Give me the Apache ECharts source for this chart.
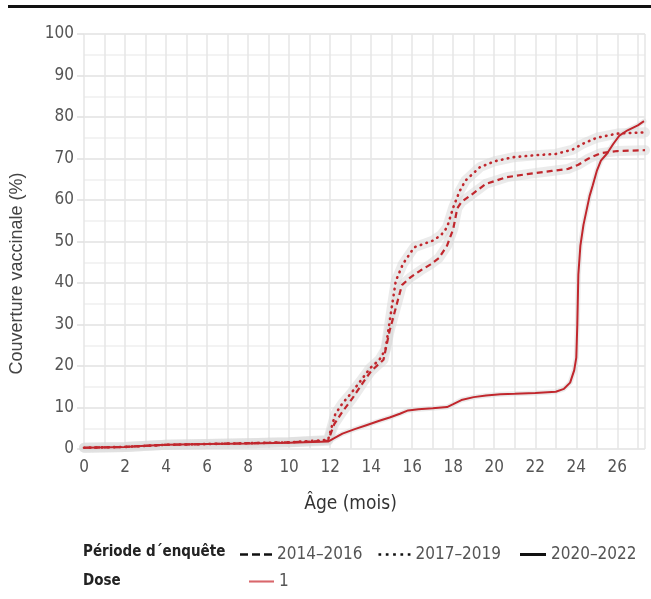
<!DOCTYPE html>
<html>
<head>
  <meta charset="UTF-8">
  <title>Couverture vaccinale</title>
  <script src="https://cdn.jsdelivr.net/npm/echarts@6/dist/echarts.min.js"></script>
  <style>
    html, body { margin: 0; padding: 0; background: #fff; }
    #main { width: 651px; height: 599px; }
  </style>
</head>
<body>
<div id="main"></div>
<script>
// period names (legend)
var periods = ['2014–2016', '2017–2019', '2020–2022'];
var doses = ['1'];

// 2014-2016, dashed
var ageA = [0, 2, 4, 6, 8, 10, 11.9, 12.2, 12.6, 13.1, 13.6, 14.0, 14.6, 14.9, 15.2, 15.5, 15.9, 16.4, 16.9, 17.3, 17.7, 18.0, 18.2, 18.4, 18.95, 19.6, 20.6, 21.7, 22.8, 23.6, 24.1, 24.6, 25.2, 26.0, 27.35];
var covA = [0.3, 0.5, 1.0, 1.2, 1.4, 1.6, 2.0, 6.0, 9.0, 12.3, 16, 18.8, 21.5, 28.5, 34, 39.5, 41.3, 43, 44.5, 46, 49, 53, 58, 59.5, 61.5, 63.9, 65.5, 66.3, 67, 67.5, 68.5, 70, 71.3, 71.8, 72];

// 2017-2019, dotted
var ageB = [0, 2, 4, 6, 8, 10, 11.9, 12.25, 12.6, 13.0, 13.5, 13.95, 14.4, 14.7, 15.0, 15.2, 15.55, 16.1, 16.6, 17.0, 17.4, 17.7, 18.0, 18.3, 18.6, 19.3, 20.0, 20.9, 22.0, 23.0, 23.8, 24.3, 25.0, 26.0, 27.35];
var covB = [0.3, 0.5, 1.0, 1.2, 1.4, 1.6, 2.2, 8.4, 11, 13.3, 16.5, 19.5, 21.5, 24, 34, 40.5, 44.6, 48.6, 49.5, 50.2, 51.5, 53.4, 58.2, 62, 64.7, 67.9, 69.3, 70.3, 70.8, 71.1, 72.1, 73.5, 75, 76, 76.3];

// 2020-2022, solid
var ageC = [0, 2, 3, 4, 6, 8, 10, 11.9, 12.2, 12.6, 13.2, 13.8, 14.4, 14.9, 15.4, 15.8, 16.3, 17.0, 17.7, 18.0, 18.4, 19.0, 19.6, 20.3, 21.0, 22.0, 23.0, 23.4, 23.7, 23.9, 24.0, 24.05, 24.1, 24.2, 24.35, 24.5, 24.65, 24.8, 25.0, 25.2, 25.5, 25.8, 26.1, 26.5, 27.0, 27.3];
var covC = [0.3, 0.5, 0.8, 1.0, 1.2, 1.3, 1.5, 1.8, 2.6, 3.7, 4.8, 5.8, 6.8, 7.6, 8.5, 9.3, 9.6, 9.8, 10.1, 10.8, 11.8, 12.5, 12.9, 13.2, 13.3, 13.5, 13.8, 14.5, 16, 19, 22, 30, 42, 49, 54, 57.5, 61, 63.5, 67, 69.5, 71.2, 73.5, 75.5, 76.8, 78, 79];

var xTicks = [0, 2, 4, 6, 8, 10, 12, 14, 16, 18, 20, 22, 24, 26];

function pairs(xs, ys) {
    return xs.map(function (x, i) { return [x, ys[i]]; });
}

var red = '#c1272d';
var band = 'rgba(215,215,215,0.5)';
var tickFont = '"Liberation Sans Narrow", "DejaVu Sans Condensed", sans-serif';
var legendText = { fontSize: 17, color: '#555', fontFamily: tickFont };

// legend glyphs: dashes, dots, plain bar
var iconDash = 'path://M0,0h8v2.6h-8z M12,0h8v2.6h-8z M24,0h8v2.6h-8z';
var iconDot = 'path://M0,0h2.6v2.6h-2.6z M7,0h2.6v2.6h-2.6z M14,0h2.6v2.6h-2.6z M21,0h2.6v2.6h-2.6z M28,0h2.6v2.6h-2.6z';
var iconLine = 'path://M0,0h26v3h-26z';
var iconDose = 'path://M0,0h24v2h-24z';

var myChart = echarts.init(document.getElementById('main'));

var series = [];
// confidence bands (drawn under the lines)
[[ageA, covA, 10], [ageB, covB, 10], [ageC, covC, 5]].forEach(function (s, i) {
    series.push({
        name: 'band' + i, type: 'line', data: pairs(s[0], s[1]),
        symbol: 'none', silent: true, z: 1,
        lineStyle: { color: band, width: s[2], cap: 'round', join: 'round' }
    });
});
series.push({
    name: 'd2014', type: 'line', data: pairs(ageA, covA), symbol: 'none', z: 3,
    lineStyle: { color: red, width: 2.2, type: [6, 4] }
});
series.push({
    name: 'd2017', type: 'line', data: pairs(ageB, covB), symbol: 'none', z: 3,
    lineStyle: { color: red, width: 2.6, type: [0.5, 5.5], cap: 'round' }
});
series.push({
    name: 'd2020', type: 'line', data: pairs(ageC, covC), symbol: 'none', z: 4,
    lineStyle: { color: red, width: 2 }
});
// legend-only series
series.push({ name: periods[0], type: 'line', data: [], symbol: 'none', itemStyle: { color: '#111' } });
series.push({ name: periods[1], type: 'line', data: [], symbol: 'none', itemStyle: { color: '#111' } });
series.push({ name: periods[2], type: 'line', data: [], symbol: 'none', itemStyle: { color: '#111' } });
series.push({ name: doses[0], type: 'line', data: [], symbol: 'none', itemStyle: { color: '#d9676b' } });

var option = {
    animation: false,
    backgroundColor: '#fff',
    graphic: [{
        type: 'rect', left: 8, top: 5,
        shape: { width: 643, height: 3 },
        style: { fill: '#111' }
    }],
    title: [
        { text: 'Période d´enquête', left: 78, top: 540,
          textStyle: { fontSize: 15, fontWeight: 'bold', color: '#222', fontFamily: tickFont } },
        { text: 'Dose', left: 78, top: 569,
          textStyle: { fontSize: 15, fontWeight: 'bold', color: '#222', fontFamily: tickFont } }
    ],
    legend: [{
        data: [
            { name: periods[0], icon: iconDash },
            { name: periods[1], icon: iconDot }
        ],
        left: 235, top: 541, itemWidth: 32, itemHeight: 14, itemGap: 16,
        textStyle: legendText
    }, {
        data: [{ name: periods[2], icon: iconLine }],
        left: 515, top: 541, itemWidth: 26, itemHeight: 14,
        textStyle: legendText
    }, {
        data: [{ name: doses[0], icon: iconDose }],
        left: 244, top: 568, itemWidth: 25, itemHeight: 14,
        textStyle: legendText
    }],
    grid: { left: 80, right: 6, top: 34, bottom: 150 },
    xAxis: {
        type: 'value', min: 0, max: 27.35, interval: 1,
        name: 'Âge (mois)', nameLocation: 'middle', nameGap: 46,
        nameTextStyle: { fontSize: 19, color: '#333', fontFamily: tickFont, padding: [0, 28, 0, 0] },
        axisLine: { show: false },
        axisTick: { show: false },
        axisLabel: {
            color: '#555', fontSize: 17, fontFamily: tickFont, margin: 10,
            showMaxLabel: false,
            formatter: function (v) { return xTicks.indexOf(v) >= 0 ? String(v) : ''; }
        },
        splitLine: { show: true, lineStyle: { color: '#e6e6e6', width: 1.5 } }
    },
    yAxis: {
        type: 'value', min: 0, max: 100, interval: 10,
        name: 'Couverture vaccinale (%)', nameLocation: 'middle', nameGap: 58,
        nameTextStyle: { fontSize: 18, color: '#444', fontFamily: 'Liberation Sans, sans-serif', padding: [0, 64, 0, 0] },
        axisLine: { show: false },
        axisTick: { show: true, length: 7, lineStyle: { color: '#e0e0e0', width: 1.5 } },
        axisLabel: { color: '#555', fontSize: 17, fontFamily: tickFont, margin: 10 },
        splitLine: { show: true, lineStyle: { color: '#e2e2e2', width: 1.5 } },
        minorTick: { show: false, splitNumber: 2 },
        minorSplitLine: { show: true, lineStyle: { color: '#f0f0f0', width: 1.5 } }
    },
    series: series
};

myChart.setOption(option);
</script>
</body>
</html>
